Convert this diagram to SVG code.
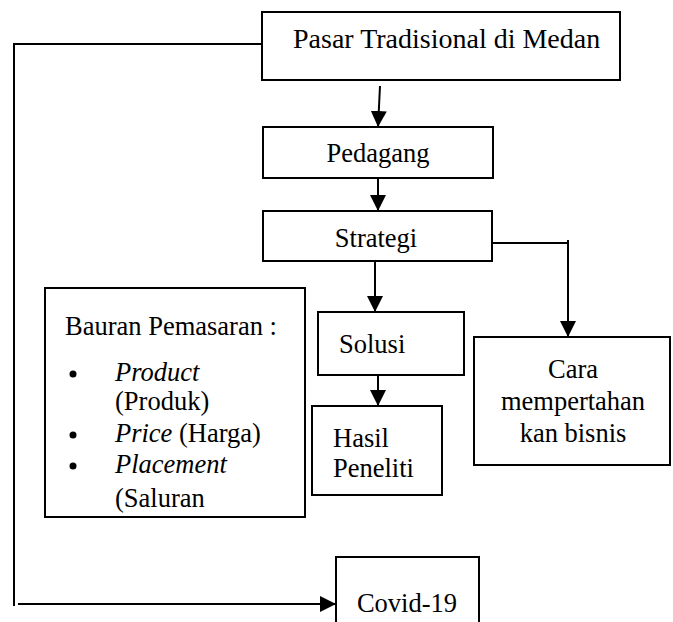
<svg xmlns="http://www.w3.org/2000/svg" width="673" height="622" viewBox="0 0 673 622">
<style>
.box{fill:#fff;stroke:#000;stroke-width:2}
.t{font-family:"Liberation Serif","Times New Roman",serif;font-size:26.5px;fill:#000}
.c{text-anchor:middle}
.i{font-style:italic}
.ln{fill:none;stroke:#000;stroke-width:2}
</style>
<defs>
<marker id="ah" markerUnits="userSpaceOnUse" markerWidth="16" markerHeight="16" viewBox="0 0 16 16" refX="16" refY="8" orient="auto">
<path d="M0,0 L16,8 L0,16 Z" fill="#000"/>
</marker>
</defs>
<rect width="673" height="622" fill="#fff"/>
<g id="connectors">
<polyline class="ln" points="262,44 14,44 14,606"/>
<line class="ln" x1="18" y1="604" x2="336" y2="604" marker-end="url(#ah)"/>
<line class="ln" x1="380" y1="86" x2="378" y2="127" marker-end="url(#ah)"/>
<line class="ln" x1="378" y1="178" x2="378" y2="211" marker-end="url(#ah)"/>
<line class="ln" x1="375" y1="261" x2="375" y2="312" marker-end="url(#ah)"/>
<line class="ln" x1="378" y1="375" x2="378" y2="406" marker-end="url(#ah)"/>
<polyline class="ln" points="492,243 569,243"/>
<line class="ln" x1="568" y1="240" x2="568" y2="337" marker-end="url(#ah)"/>
</g>
<g id="pasar">
<rect class="box" x="262" y="12" width="358" height="68"/>
<text class="t" x="293" y="48" style="font-size:28px">Pasar Tradisional di Medan</text>
</g>
<g id="pedagang">
<rect class="box" x="263" y="127" width="230" height="51"/>
<text class="t c" x="378" y="162">Pedagang</text>
</g>
<g id="strategi">
<rect class="box" x="263" y="211" width="229" height="50"/>
<text class="t c" x="376" y="247">Strategi</text>
</g>
<g id="solusi">
<rect class="box" x="318" y="312" width="146" height="63"/>
<text class="t" x="339" y="353">Solusi</text>
</g>
<g id="hasil">
<rect class="box" x="312" y="406" width="130" height="89"/>
<text class="t" x="333" y="447">Hasil</text>
<text class="t" x="333" y="477">Peneliti</text>
</g>
<g id="cara">
<rect class="box" x="474" y="337" width="196" height="128"/>
<text class="t c" x="573" y="378">Cara</text>
<text class="t c" x="573" y="410">mempertahan</text>
<text class="t c" x="573" y="442">kan bisnis</text>
</g>
<g id="bauran">
<rect class="box" x="45" y="288" width="260" height="229"/>
<text class="t" x="65" y="335">Bauran Pemasaran :</text>
<circle cx="73" cy="374" r="3.5"/>
<text class="t" x="115" y="381"><tspan class="i">Product</tspan></text>
<text class="t" x="115" y="410">(Produk)</text>
<circle cx="73" cy="435" r="3.5"/>
<text class="t" x="115" y="442"><tspan class="i">Price</tspan> (Harga)</text>
<circle cx="73" cy="466" r="3.5"/>
<text class="t" x="115" y="473"><tspan class="i">Placement</tspan></text>
<text class="t" x="115" y="507">(Saluran</text>
</g>
<g id="covid">
<rect class="box" x="336" y="557" width="143" height="80"/>
<text class="t c" x="407" y="612">Covid-19</text>
</g>
</svg>
